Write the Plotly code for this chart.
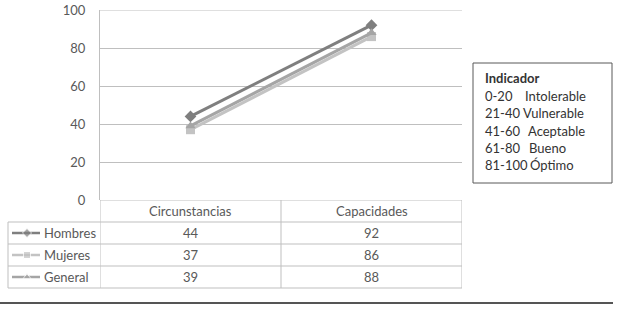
import plotly.graph_objects as go

categories = ["Circunstancias", "Capacidades"]
series_names = ["Hombres", "Mujeres", "General"]
hombres = [44, 92]
mujeres = [37, 86]
general = [39, 88]
series_values = [hombres, mujeres, general]
series_colors = ["#7f7f7f", "#c3c3c3", "#a5a5a5"]
series_symbols = ["diamond", "square", "triangle-up"]
y_ticks = [0, 20, 40, 60, 80, 100]

legend_title = "Indicador"
legend_ranges = ["0-20", "21-40", "41-60", "61-80", "81-100"]
legend_labels = ["Intolerable", "Vulnerable", "Aceptable", "Bueno", "Óptimo"]

FONT = "Lato"
TXT = "#595959"
FS = 13

W, H = 619, 309
ML, MR, MT, MB = 8, 157, 10, 19
PW = W - ML - MR
PH = H - MT - MB

def px(xp):
    return (xp - ML) / PW

def py(yp):
    return (H - MB - yp) / PH

fig = go.Figure()

for name, vals, col, sym in zip(series_names, series_values, series_colors, series_symbols):
    fig.add_trace(go.Scatter(
        x=categories, y=vals, mode="lines+markers", name=name,
        line=dict(color=col, width=3),
        marker=dict(symbol=sym, size=9, color=col),
        xaxis="x", yaxis="y", showlegend=False, cliponaxis=False))

# table legend keys
for name, col, sym in zip(series_names, series_colors, series_symbols):
    fig.add_trace(go.Scatter(
        x=[4, 19, 32], y=[name] * 3, mode="lines+markers",
        line=dict(color=col, width=2.5),
        marker=dict(symbol=sym, size=[0, 7, 0], color=col),
        xaxis="x2", yaxis="y2", showlegend=False, cliponaxis=False))

shapes = []
grid = "#bfbfbf"
shapes.append(dict(type="line", xref="paper", yref="y", x0=px(100), x1=1, y0=y_ticks[-1], y1=y_ticks[-1],
                   line=dict(color=grid, width=1), layer="below"))
for yv in [2.5, 1.5, 0.5, -0.5]:
    shapes.append(dict(type="line", xref="paper", yref="y2", x0=0, x1=1, y0=yv, y1=yv,
                       line=dict(color=grid, width=1)))
shapes.append(dict(type="line", xref="paper", yref="y2", x0=px(100), x1=1, y0=3.5, y1=3.5,
                   line=dict(color=grid, width=1)))
for xv in [-0.5, 0.5, 1.5]:
    shapes.append(dict(type="line", xref="x", yref="y2", x0=xv, x1=xv, y0=-0.5, y1=3.5,
                       line=dict(color=grid, width=1)))
shapes.append(dict(type="line", xref="paper", yref="y2", x0=0, x1=0, y0=-0.5, y1=2.5,
                   line=dict(color=grid, width=1)))
# indicator box
shapes.append(dict(type="rect", xref="paper", yref="paper", x0=px(473), x1=px(612),
                   y0=py(183), y1=py(63), line=dict(color="#595959", width=1)))
# bottom rule
shapes.append(dict(type="line", xref="paper", yref="paper", x0=px(0), x1=px(613),
                   y0=py(303), y1=py(303), line=dict(color="#555555", width=2)))

annotations = []
for c in categories:
    annotations.append(dict(x=c, y=3, xref="x", yref="y2", text=c, showarrow=False,
                            xanchor="center", yanchor="middle",
                            font=dict(family=FONT, size=FS, color=TXT)))
for name, vals in zip(series_names, series_values):
    annotations.append(dict(x=34, y=name, xref="x2", yref="y2", text=name, showarrow=False,
                            xanchor="left", yanchor="middle",
                            font=dict(family=FONT, size=FS, color=TXT)))
    for c, v in zip(categories, vals):
        annotations.append(dict(x=c, y=name, xref="x", yref="y2", text=str(v), showarrow=False,
                                xanchor="center", yanchor="middle",
                                font=dict(family=FONT, size=FS, color=TXT)))

annotations.append(dict(x=px(483), y=py(78), xref="paper", yref="paper",
                        text="<b>" + legend_title + "</b>", showarrow=False,
                        xanchor="left", yanchor="middle",
                        font=dict(family=FONT, size=FS, color="#333333")))
label_x = [523, 521, 526, 527, 528]
for i, (r, l) in enumerate(zip(legend_ranges, legend_labels)):
    yy = 96 + i * 17.3
    annotations.append(dict(x=px(483), y=py(yy), xref="paper", yref="paper", text=r,
                            showarrow=False, xanchor="left", yanchor="middle",
                            font=dict(family=FONT, size=FS, color="#333333")))
    annotations.append(dict(x=px(label_x[i]), y=py(yy), xref="paper", yref="paper", text=l,
                            showarrow=False, xanchor="left", yanchor="middle",
                            font=dict(family=FONT, size=FS, color="#333333")))

fig.update_layout(
    template="none",
    width=W, height=H, autosize=False,
    margin=dict(l=ML, r=MR, t=MT, b=MB, pad=0),
    paper_bgcolor="white", plot_bgcolor="white",
    font=dict(family=FONT, size=FS, color=TXT),
    hovermode=False,
    xaxis=dict(domain=[px(100), 1], anchor="y", type="category", range=[-0.5, 1.5],
               showticklabels=False, showgrid=False, zeroline=False, showline=False,
               automargin=False, ticks=""),
    yaxis=dict(domain=[py(200), 1], anchor="x", range=[0, 100], tickvals=y_ticks,
               showgrid=True, gridcolor=grid, gridwidth=1, zeroline=False,
               showline=True, linecolor=grid, linewidth=1, ticks="",
               automargin=False, ticklabelstandoff=11, ticklabeloverflow="allow",
               tickfont=dict(family=FONT, size=FS, color=TXT)),
    xaxis2=dict(domain=[0, px(100)], anchor="y2", range=[0, 92], visible=False),
    yaxis2=dict(domain=[0, py(200)], anchor="x2", type="category",
                categoryorder="array", categoryarray=series_names[::-1],
                range=[-0.591, 3.5], visible=False),
    shapes=shapes, annotations=annotations,
)

fig.write_html("out.html", config={"displayModeBar": False},
               post_script="document.body.style.margin='0px';")
